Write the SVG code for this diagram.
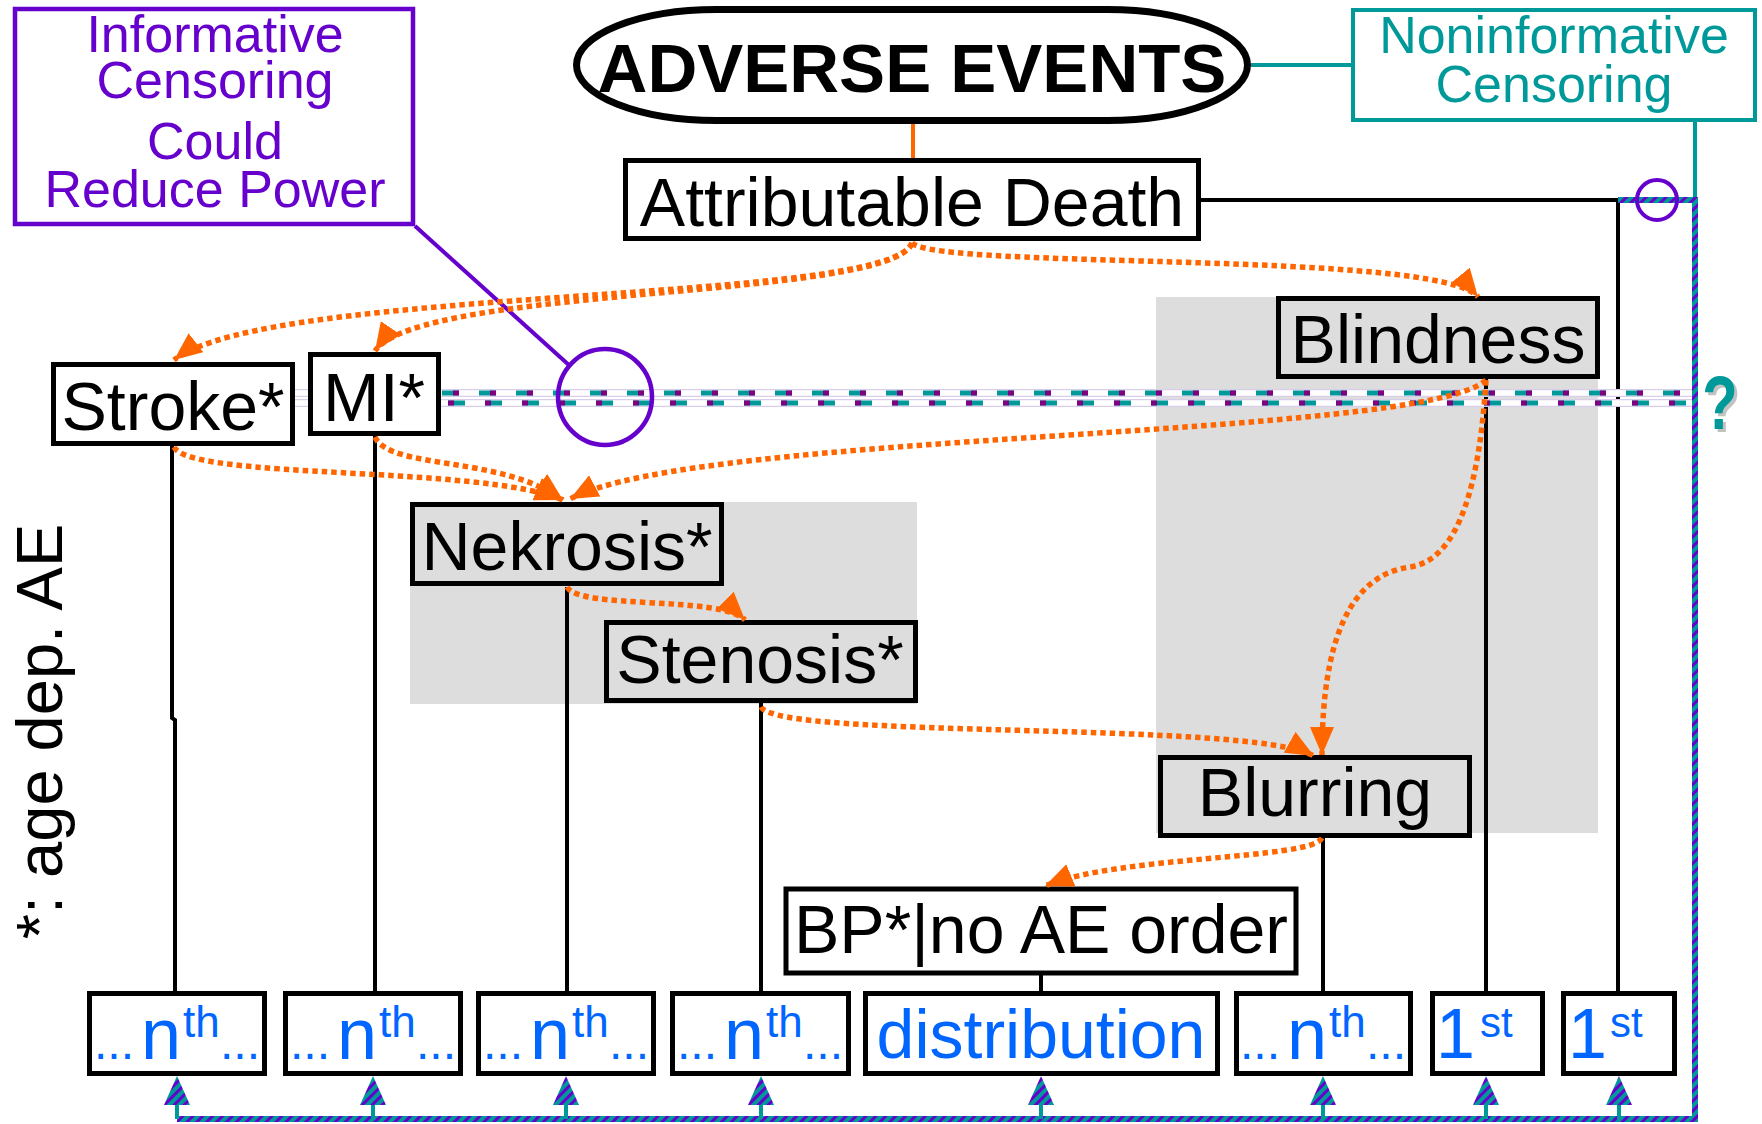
<svg xmlns="http://www.w3.org/2000/svg" width="1762" height="1124" viewBox="0 0 1762 1124">
<defs>
<style>
text{font-family:"Liberation Sans",Arial,sans-serif}
.box{stroke:#000;stroke-width:5;fill:#fff}
.gbox{stroke:#000;stroke-width:5;fill:#ddd}
.lbl{font-size:68px;fill:#000;text-anchor:middle}
.blue{fill:#0066ff}
.dots{font-size:48px}
.n{font-size:72px}
.sup{font-size:44px}
.blk{stroke:#000;stroke-width:4;fill:none}
.dot{stroke:#ff6600;stroke-width:5.5;stroke-dasharray:5.5 4;fill:none;marker-end:url(#oa)}
.pur{fill:#6600cc;font-size:52px;text-anchor:middle}
.tl{fill:#009999;font-size:52px;text-anchor:middle}
.stem{stroke:#009999;stroke-width:4}
.ah{fill:url(#stripe)}
</style>
<marker id="oa" markerUnits="userSpaceOnUse" markerWidth="28" markerHeight="24" viewBox="0 0 28 24" refX="28" refY="12" orient="auto"><path d="M0,0 L28,12 L0,24 z" fill="#ff6600"/></marker>
<pattern id="stripe" patternUnits="userSpaceOnUse" width="7" height="7" patternTransform="rotate(45)"><rect width="7" height="7" fill="#009999"/><rect width="3" height="7" fill="#6600cc"/></pattern>
</defs>

<rect id="bg" width="1762" height="1124" fill="#fff"/>

<g id="shading">
<rect x="410" y="502" width="507" height="202" fill="#ddd"/>
<rect x="1156" y="297" width="442" height="536" fill="#ddd"/>
</g>

<g id="connectors">
<path class="blk" d="M172,446 V718 L175,720 V991"/>
<path class="blk" d="M375,436 V991"/>
<path class="blk" d="M567,587 V991"/>
<path class="blk" d="M761,703 V991"/>
<path class="blk" d="M1041,973 V991"/>
<path class="blk" d="M1323,838 V991"/>
<path class="blk" d="M1486,379 V991"/>
<path class="blk" d="M1201,200 H1618 V991"/>
<path d="M913,124 V158" stroke="#ff6600" stroke-width="4"/>
<path d="M1251,65 H1351" stroke="#009999" stroke-width="4"/>
<path d="M1695,122 V200" stroke="#009999" stroke-width="4"/>
<path d="M415,226 L570,366" stroke="#6600cc" stroke-width="4"/>
<g id="censor-lines">
<path d="M295,393H1693M295,403H1693" stroke="#d8cdea" stroke-width="8"/>
<path d="M295,393H1693M295,403H1693" stroke="#fff" stroke-width="5.5"/>
<path d="M442,393H1693" stroke="#009999" stroke-width="5" stroke-dasharray="17 20"/>
<path d="M442,393H1693" stroke="#800080" stroke-width="5" stroke-dasharray="6 31" stroke-dashoffset="-11"/>
<path d="M448,403H1693" stroke="#009999" stroke-width="5" stroke-dasharray="17 20"/>
<path d="M448,403H1693" stroke="#800080" stroke-width="5" stroke-dasharray="6 31"/>
</g>
<path d="M177,1119 H1695 V200 H1618" stroke="url(#stripe)" stroke-width="6" fill="none"/>
<path class="stem" d="M177,1103V1119M373,1103V1119M566,1103V1119M761,1103V1119M1041,1103V1119M1323,1103V1119M1486,1103V1119M1619,1103V1119"/>
<polygon class="ah" points="177,1076 164,1105 190,1105"/>
<polygon class="ah" points="373,1076 360,1105 386,1105"/>
<polygon class="ah" points="566,1076 553,1105 579,1105"/>
<polygon class="ah" points="761,1076 748,1105 774,1105"/>
<polygon class="ah" points="1041,1076 1028,1105 1054,1105"/>
<polygon class="ah" points="1323,1076 1310,1105 1336,1105"/>
<polygon class="ah" points="1486,1076 1473,1105 1499,1105"/>
<polygon class="ah" points="1619,1076 1606,1105 1632,1105"/>
<circle cx="1657" cy="200" r="20" fill="none" stroke="#6600cc" stroke-width="4"/>
<ellipse cx="605" cy="397" rx="47" ry="48" fill="none" stroke="#6600cc" stroke-width="4.5"/>
</g>

<g id="informative">
<rect x="15" y="9" width="398" height="215" fill="#fff" stroke="#6600cc" stroke-width="4.5"/>
<text class="pur"><tspan x="215" y="52">Informative</tspan><tspan x="215" y="98">Censoring</tspan><tspan x="215" y="159">Could</tspan><tspan x="215" y="207">Reduce Power</tspan></text>
</g>

<g id="adverse">
<rect x="576.5" y="9.5" width="671" height="111" rx="140" ry="55.5" fill="#fff" stroke="#000" stroke-width="7"/>
<text x="912" y="92" font-size="69" font-weight="bold" text-anchor="middle">ADVERSE EVENTS</text>
</g>

<g id="noninformative">
<rect x="1353" y="10" width="402" height="110" fill="#fff" stroke="#009999" stroke-width="4"/>
<text class="tl"><tspan x="1554" y="53">Noninformative</tspan><tspan x="1554" y="102">Censoring</tspan></text>
</g>

<g id="death">
<rect class="box" x="625.5" y="160.5" width="573" height="78"/>
<text class="lbl" x="912" y="226" font-size="69">Attributable Death</text>
</g>

<g id="stroke">
<rect class="box" x="53.5" y="364.5" width="239" height="79"/>
<text class="lbl" x="173" y="430">Stroke*</text>
</g>

<g id="mi">
<rect class="box" x="310.5" y="354.5" width="128" height="79"/>
<text class="lbl" x="374" y="421">MI*</text>
</g>

<g id="blindness">
<rect class="gbox" x="1278.5" y="298.5" width="319" height="78"/>
<text class="lbl" x="1438" y="363">Blindness</text>
</g>

<g id="nekrosis">
<rect class="gbox" x="412.5" y="504.5" width="309" height="79"/>
<text class="lbl" x="567" y="570">Nekrosis*</text>
</g>

<g id="stenosis">
<rect class="gbox" x="606.5" y="622.5" width="309" height="78"/>
<text class="lbl" x="760" y="683">Stenosis*</text>
</g>

<g id="blurring">
<rect class="gbox" x="1160.5" y="757.5" width="309" height="78"/>
<text class="lbl" x="1315" y="816">Blurring</text>
</g>

<g id="bp">
<rect class="box" x="786" y="889" width="510" height="84"/>
<text class="lbl" x="1041" y="953" font-size="67">BP*|no AE order</text>
</g>

<g id="orange-arrows">
<path class="dot" d="M912,243 C890,305 270,285 174,360"/>
<path class="dot" d="M912,243 C890,300 420,285 375,351"/>
<path class="dot" d="M912,243 C940,270 1440,250 1478,297"/>
<path class="dot" d="M174,447 C190,480 480,465 563,500"/>
<path class="dot" d="M375,437 C390,470 500,455 563,500"/>
<path class="dot" d="M1486,380 C1420,440 700,430 570,499"/>
<path class="dot" d="M567,587 C580,610 720,595 745,620"/>
<path class="dot" d="M761,707 C780,740 1250,720 1314,756"/>
<path class="dot" d="M1486,380 C1480,480 1460,560 1410,567 C1350,575 1322,640 1322,755"/>
<path class="dot" d="M1322,838 C1310,860 1120,855 1045,886"/>
</g>

<g id="out1"><rect class="box" x="89.5" y="993.5" width="175" height="80"/>
<text class="blue"><tspan class="dots" x="94" y="1059">...</tspan><tspan class="n" x="141" y="1059">n</tspan><tspan class="sup" x="183" y="1037">th</tspan><tspan class="dots" x="220" y="1059">...</tspan></text></g>
<g id="out2"><rect class="box" x="285.5" y="993.5" width="175" height="80"/>
<text class="blue"><tspan class="dots" x="290" y="1059">...</tspan><tspan class="n" x="337" y="1059">n</tspan><tspan class="sup" x="379" y="1037">th</tspan><tspan class="dots" x="416" y="1059">...</tspan></text></g>
<g id="out3"><rect class="box" x="478.5" y="993.5" width="175" height="80"/>
<text class="blue"><tspan class="dots" x="483" y="1059">...</tspan><tspan class="n" x="530" y="1059">n</tspan><tspan class="sup" x="572" y="1037">th</tspan><tspan class="dots" x="609" y="1059">...</tspan></text></g>
<g id="out4"><rect class="box" x="672.5" y="993.5" width="176" height="80"/>
<text class="blue"><tspan class="dots" x="677" y="1059">...</tspan><tspan class="n" x="724" y="1059">n</tspan><tspan class="sup" x="766" y="1037">th</tspan><tspan class="dots" x="803" y="1059">...</tspan></text></g>
<g id="out5"><rect class="box" x="865.5" y="993.5" width="352" height="80"/>
<text class="blue" x="1041" y="1058" font-size="68" text-anchor="middle">distribution</text></g>
<g id="out6"><rect class="box" x="1236.5" y="993.5" width="174" height="80"/>
<text class="blue"><tspan class="dots" x="1240" y="1059">...</tspan><tspan class="n" x="1287" y="1059">n</tspan><tspan class="sup" x="1329" y="1037">th</tspan><tspan class="dots" x="1366" y="1059">...</tspan></text></g>
<g id="out7"><rect class="box" x="1432.5" y="993.5" width="110" height="80"/>
<text class="blue"><tspan x="1436" y="1058" font-size="70">1</tspan><tspan x="1480" y="1037" font-size="42">st</tspan></text></g>
<g id="out8"><rect class="box" x="1563.5" y="993.5" width="111" height="80"/>
<text class="blue"><tspan x="1568" y="1058" font-size="70">1</tspan><tspan x="1610" y="1037" font-size="42">st</tspan></text></g>

<g id="question">
<text transform="translate(1723,432) scale(1,1.3)" font-size="58" font-weight="bold" fill="#999" fill-opacity="0.6" text-anchor="middle">?</text>
<text transform="translate(1720,429) scale(1,1.3)" font-size="58" font-weight="bold" fill="#009999" text-anchor="middle">?</text>
</g>

<text id="legend" transform="translate(62,731.5) rotate(-90)" font-size="65" text-anchor="middle">*: age dep. AE</text>
</svg>
